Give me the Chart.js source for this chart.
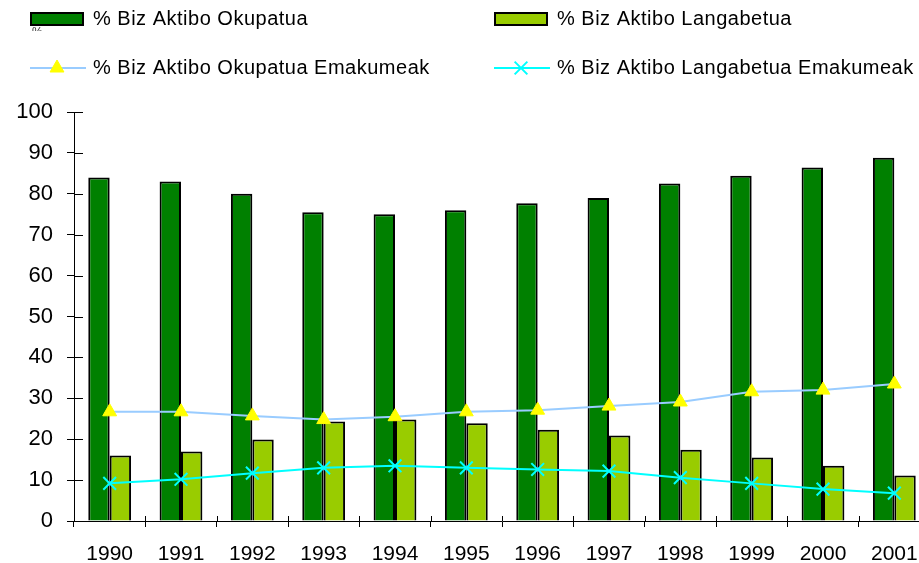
<!DOCTYPE html>
<html>
<head>
<meta charset="utf-8">
<script src="https://cdn.jsdelivr.net/npm/chart.js@4/dist/chart.umd.min.js"></script>
<style>
  html, body { margin: 0; padding: 0; background: #fff; overflow: hidden; }
  #clip { width: 919px; height: 563px; overflow: hidden; position: relative; }
  #wrap { width: 941px; height: 563px; }
</style>
</head>
<body>
<div id="clip"><div id="wrap"><canvas id="myChart"></canvas></div></div>
<script>
var years = ["1990", "1991", "1992", "1993", "1994", "1995", "1996", "1997", "1998", "1999", "2000", "2001"]
var okupatua = [84, 83, 80, 75.5, 75, 76, 77.7, 79, 82.5, 84.4, 86.4, 88.8]
var langabetua = [16, 17, 19.9, 24.3, 24.8, 23.9, 22.3, 20.9, 17.4, 15.5, 13.5, 11.1]
var okupatuaEmak = [26.7, 26.7, 25.7, 24.8, 25.5, 26.7, 27.1, 28.1, 29.1, 31.6, 32, 33.5]
var langabetuaEmak = [9.2, 10.2, 11.7, 13, 13.5, 13, 12.6, 12.2, 10.6, 9.2, 7.8, 6.8]
var yMin = 0, yMax = 100, yStep = 10

Chart.defaults.font.family = "'Liberation Sans', Arial, sans-serif"
Chart.defaults.color = '#000'

/* legend in two columns, drawn by hand like the original */
const twoColLegend = {
  id: 'twoColLegend',
  afterDraw(chart) {
    const ctx = chart.ctx
    const ds = chart.data.datasets
    const cols = [31, 495]
    const rows = [19, 68]
    ctx.save()
    // stray "%" (axis title peeking out under the legend)
    ctx.save()
    ctx.beginPath()
    ctx.rect(0, 0, 100, 31)
    ctx.clip()
    ctx.fillStyle = '#333'
    ctx.font = "12px 'Liberation Sans', Arial, sans-serif"
    ctx.textBaseline = 'top'
    ctx.fillText('%', 32, 27)
    ctx.restore()

    ctx.font = "20px 'Liberation Sans', Arial, sans-serif"
    if ('letterSpacing' in ctx) ctx.letterSpacing = '0.5px'
    ctx.textBaseline = 'middle'
    ctx.textAlign = 'left'
    ds.forEach((d, i) => {
      const x = cols[i % 2]
      const y = rows[Math.floor(i / 2)]
      if (d.type === 'bar' || !d.type) {
        ctx.fillStyle = d.backgroundColor
        ctx.fillRect(x, y - 6, 52, 12)
        ctx.strokeStyle = '#000'
        ctx.lineWidth = 2
        ctx.strokeRect(x, y - 6, 52, 12)
      } else {
        ctx.strokeStyle = d.borderColor
        ctx.lineWidth = 2
        ctx.beginPath()
        ctx.moveTo(x - 1, y)
        ctx.lineTo(x + 55, y)
        ctx.stroke()
        ctx.fillStyle = d.pointBackgroundColor
        ctx.strokeStyle = d.pointBorderColor
        ctx.lineWidth = d.pointBorderWidth
        Chart.helpers.drawPoint(ctx, {
          pointStyle: d.pointStyle, radius: d.pointRadius, rotation: 0, borderWidth: d.pointBorderWidth
        }, x + 26, y)
      }
      ctx.fillStyle = '#000'
      ctx.fillText(d.label, x + 62, y)
    })
    ctx.restore()
  }
}

/* tick marks that cross the axes */
const crossTicks = {
  id: 'crossTicks',
  afterDraw(chart) {
    const ctx = chart.ctx
    const xs = chart.scales.x, ys = chart.scales.y
    ctx.save()
    ctx.strokeStyle = '#000'
    ctx.lineWidth = 1
    ctx.beginPath()
    for (let v = yMin; v <= yMax; v += yStep) {
      const py = Math.round(ys.getPixelForValue(v)) + 0.5
      ctx.moveTo(ys.right, py)
      ctx.lineTo(ys.right + 9, py)
    }
    const catW = (xs.right - xs.left) / years.length
    for (let i = 0; i <= years.length; i++) {
      const px = Math.round(xs.left + i * catW) + 0.5
      ctx.moveTo(px, xs.top)
      ctx.lineTo(px, xs.top - 5)
    }
    ctx.stroke()
    ctx.restore()
  }
}

const data = {
  labels: years,
  datasets: [{
    type: 'bar',
    label: '% Biz Aktibo Okupatua',
    data: okupatua,
    backgroundColor: '#008000',
    borderColor: '#000',
    borderWidth: 2,
    order: 2
  }, {
    type: 'bar',
    label: '% Biz Aktibo Langabetua',
    data: langabetua,
    backgroundColor: '#99cc00',
    borderColor: '#000',
    borderWidth: 2,
    order: 2
  }, {
    type: 'line',
    label: '% Biz Aktibo Okupatua Emakumeak',
    data: okupatuaEmak,
    borderColor: '#99ccff',
    borderWidth: 2,
    pointStyle: 'triangle',
    pointRadius: 8,
    pointBackgroundColor: '#ffff00',
    pointBorderColor: '#ffff00',
    pointBorderWidth: 1,
    tension: 0,
    order: 0
  }, {
    type: 'line',
    label: '% Biz Aktibo Langabetua Emakumeak',
    data: langabetuaEmak,
    borderColor: '#00ffff',
    borderWidth: 2,
    pointStyle: 'crossRot',
    pointRadius: 9,
    pointBackgroundColor: '#00ffff',
    pointBorderColor: '#00ffff',
    pointBorderWidth: 2,
    tension: 0,
    order: 0
  }]
}

const config = {
  type: 'bar',
  data: data,
  options: {
    responsive: true,
    maintainAspectRatio: false,
    animation: false,
    layout: { padding: { top: 112, right: 0, left: 0, bottom: 0 } },
    plugins: {
      legend: { display: false },
      tooltip: { enabled: false }
    },
    datasets: {
      bar: { categoryPercentage: 0.6, barPercentage: 1.0 }
    },
    scales: {
      x: {
        offset: true,
        grid: { drawOnChartArea: false, drawTicks: true, tickLength: 6, color: '#000', offset: true },
        border: { display: true, color: '#000', width: 1 },
        ticks: { font: { size: 21 }, padding: 15, maxRotation: 0, autoSkip: false },
        afterFit: (s) => { s.height = 42; s.paddingLeft = 0; s.paddingRight = 0 }
      },
      y: {
        min: yMin,
        max: yMax,
        grid: { drawOnChartArea: false, drawTicks: true, tickLength: 7, color: '#000' },
        border: { display: true, color: '#000', width: 1 },
        ticks: { stepSize: yStep, font: { size: 22 }, padding: 14 },
        afterFit: (s) => { s.width = 74; s.paddingTop = 0; s.paddingBottom = 0 }
      }
    }
  },
  plugins: [twoColLegend, crossTicks]
}

const myChart = new Chart(document.getElementById('myChart'), config)
</script>
</body>
</html>
